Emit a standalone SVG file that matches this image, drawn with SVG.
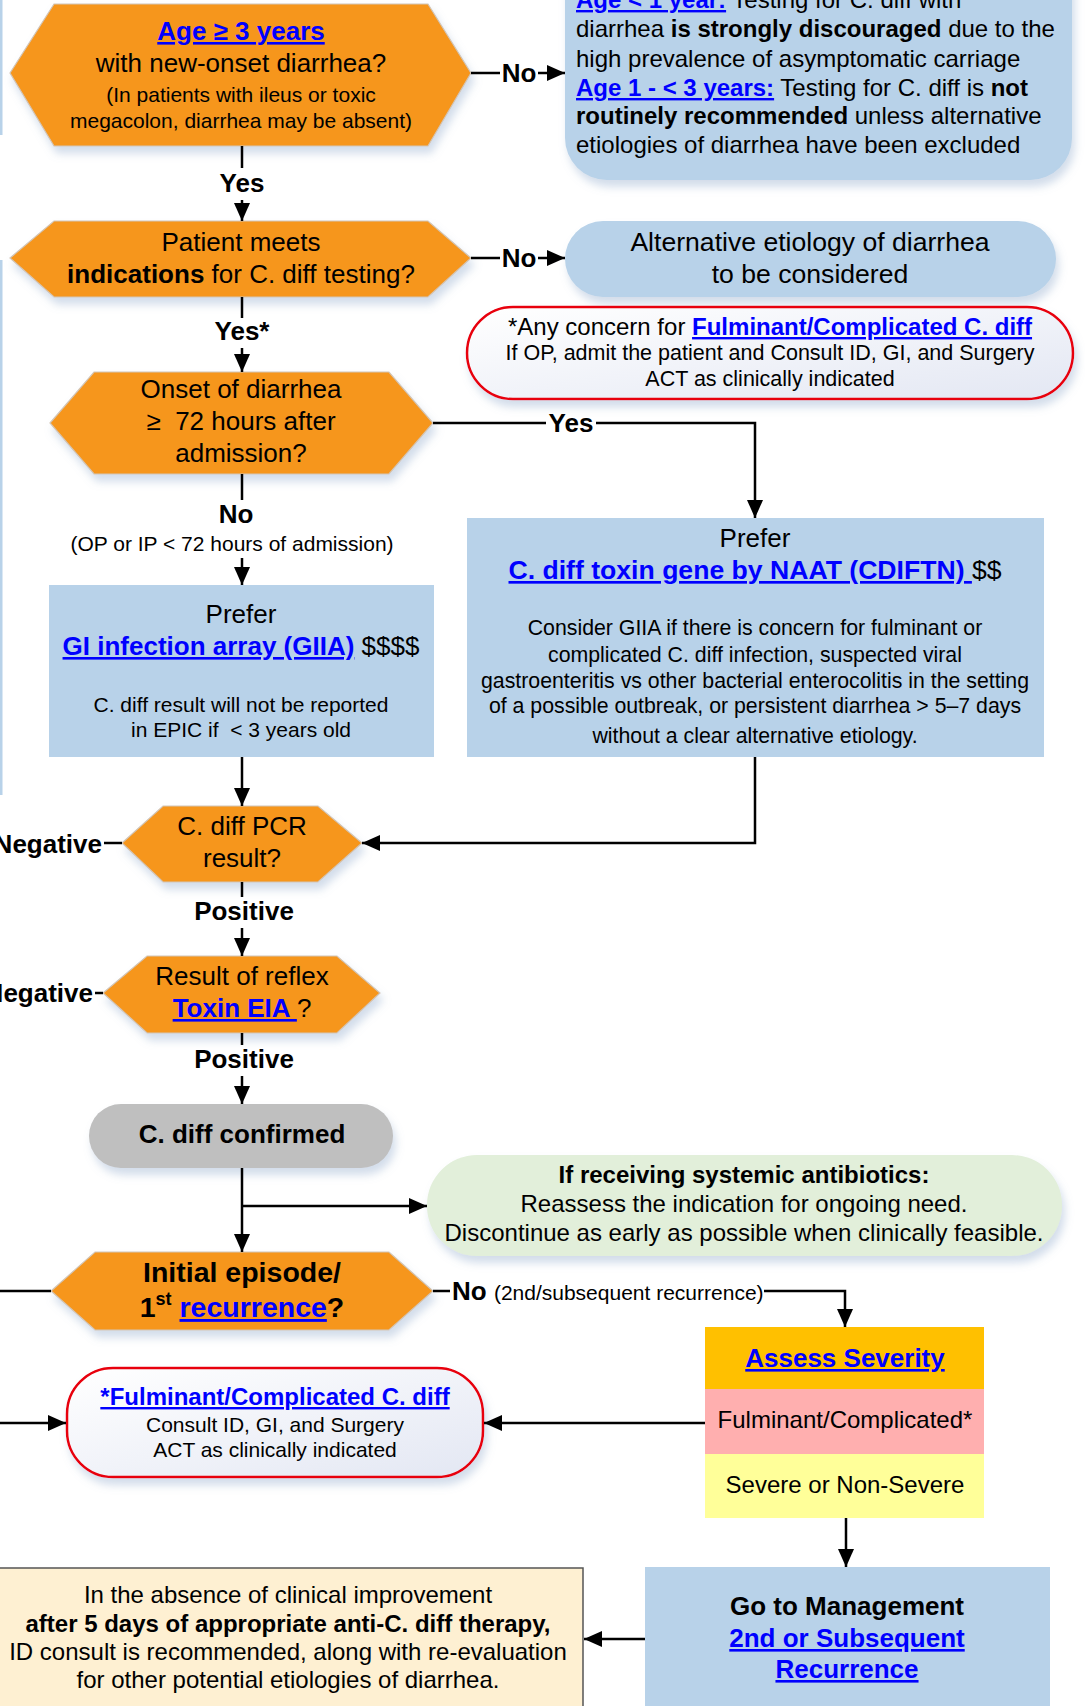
<svg xmlns="http://www.w3.org/2000/svg" width="1085" height="1706" viewBox="0 0 1085 1706">
<style>
text{font-family:"Liberation Sans",Arial,sans-serif;fill:#000;}
.c{text-anchor:middle;}
.e{text-anchor:end;}
.b{font-weight:bold;}
.lk{fill:#0000FF;font-weight:bold;text-decoration:underline;}
.f26{font-size:26px;}
.f24{font-size:24px;}
.f21{font-size:21px;}
.hex{fill:#F6961F;stroke:#d2c6b8;stroke-width:1.2;filter:url(#sh);}
.blue{fill:#B8D2E9;}
.blueR{fill:#B8D2E9;filter:url(#sh);}
.red{fill:url(#rg);stroke:#E8000B;stroke-width:2.5;filter:url(#sh);}
.conn path{fill:none;stroke:#000;stroke-width:2.5;}
.arr{marker-end:url(#ah);}
.lbl{font-size:26px;font-weight:bold;}
</style>
<defs>
<marker id="ah" markerWidth="18" markerHeight="16" refX="18" refY="8" orient="auto" markerUnits="userSpaceOnUse"><path d="M0,0 L18,8 L0,16 z" fill="#000"/></marker>
<filter id="sh" x="-10%" y="-20%" width="125%" height="150%"><feDropShadow dx="3" dy="7" stdDeviation="4" flood-color="#7f9cc4" flood-opacity="0.35"/></filter>
<linearGradient id="rg" x1="0" y1="0" x2="1" y2="1"><stop offset="0" stop-color="#ffffff"/><stop offset="1" stop-color="#e3e7f3"/></linearGradient>
</defs>
<rect width="1085" height="1706" fill="#fff"/>
<rect x="0" y="0" width="2.5" height="135" fill="#B8D2E9"/>
<rect x="0" y="260" width="2.5" height="535" fill="#B8D2E9"/>

<g id="n-age">
<polygon class="hex" points="10,73 54,4 428,4 471,73 428,146 54,146"/>
<text x="241" y="40" class="c f26"><tspan class="lk">Age ≥ 3 years</tspan></text>
<text x="241" y="72" class="c f26">with new-onset diarrhea?</text>
<text x="241" y="102" class="c f21">(In patients with ileus or toxic</text>
<text x="241" y="128" class="c f21">megacolon, diarrhea may be absent)</text>
</g>

<g id="n-under3">
<rect class="blueR" x="565" y="-80" width="507" height="260" rx="42"/>
<text x="576" y="8" class="f24"><tspan class="lk">Age &lt; 1 year:</tspan> Testing for C. diff with</text>
<text x="576" y="37" class="f24">diarrhea <tspan class="b">is strongly discouraged</tspan> due to the</text>
<text x="576" y="67" class="f24">high prevalence of asymptomatic carriage</text>
<text x="576" y="96" class="f24"><tspan class="lk">Age 1 - &lt; 3 years:</tspan> Testing for C. diff is <tspan class="b">not</tspan></text>
<text x="576" y="124" class="f24"><tspan class="b">routinely recommended</tspan> unless alternative</text>
<text x="576" y="153" class="f24">etiologies of diarrhea have been excluded</text>
</g>

<g id="n-indic">
<polygon class="hex" points="10,258 54,221 428,221 471,258 428,297 54,297"/>
<text x="241" y="251" class="c f26">Patient meets</text>
<text x="241" y="283" class="c f26"><tspan class="b">indications</tspan> for C. diff testing?</text>
</g>

<g id="n-alt">
<rect class="blueR" x="565" y="221" width="491" height="76" rx="38"/>
<text x="810" y="251" class="c" style="font-size:26.6px">Alternative etiology of diarrhea</text>
<text x="810" y="283" class="c" style="font-size:26.6px">to be considered</text>
</g>

<g id="n-concern">
<rect class="red" x="467" y="307" width="606" height="92" rx="46"/>
<text x="770" y="335" class="c f24">*Any concern for <tspan class="lk">Fulminant/Complicated C. diff </tspan></text>
<text x="770" y="360" class="c" style="font-size:21.5px">If OP, admit the patient and Consult ID, GI, and Surgery</text>
<text x="770" y="386" class="c" style="font-size:21.5px">ACT as clinically indicated</text>
</g>

<g id="n-onset">
<polygon class="hex" points="50,423 94,372 389,372 433,423 389,474 94,474"/>
<text x="241" y="398" class="c f26">Onset of diarrhea</text>
<text x="241" y="430" class="c f26" xml:space="preserve">≥  72 hours after</text>
<text x="241" y="462" class="c f26">admission?</text>
</g>

<g id="n-giia">
<rect class="blue" x="49" y="585" width="385" height="172"/>
<text x="241" y="623" class="c f26">Prefer</text>
<text x="241" y="655" class="c f26"><tspan class="lk">GI infection array (GIIA)</tspan> $$$$</text>
<text x="241" y="712" class="c f21">C. diff result will not be reported</text>
<text x="241" y="737" class="c f21" xml:space="preserve">in EPIC if  &lt; 3 years old</text>
</g>

<g id="n-naat">
<rect class="blue" x="467" y="518" width="577" height="239"/>
<text x="755" y="547" class="c f26">Prefer</text>
<text x="755" y="579" class="c" style="font-size:26.6px"><tspan class="lk">C. diff toxin gene by NAAT (CDIFTN) </tspan>$$</text>
<text x="755" y="635" class="c" style="font-size:21.3px">Consider GIIA if there is concern for fulminant or</text>
<text x="755" y="662" class="c" style="font-size:21.3px">complicated C. diff infection, suspected viral</text>
<text x="755" y="688" class="c" style="font-size:21.3px">gastroenteritis vs other bacterial enterocolitis in the setting</text>
<text x="755" y="713" class="c" style="font-size:21.3px">of a possible outbreak, or persistent diarrhea &gt; 5–7 days</text>
<text x="755" y="743" class="c" style="font-size:21.3px">without a clear alternative etiology.</text>
</g>

<g id="n-pcr">
<polygon class="hex" points="122,843 163,806 318,806 362,843 318,882 163,882"/>
<text x="242" y="835" class="c f26">C. diff PCR</text>
<text x="242" y="867" class="c f26">result?</text>
</g>

<g id="n-toxin">
<polygon class="hex" points="103,993 147,956 337,956 380,993 337,1033 147,1033"/>
<text x="242" y="985" class="c f26">Result of reflex</text>
<text x="242" y="1017" class="c f26"><tspan class="lk">Toxin EIA </tspan>?</text>
</g>

<g id="n-confirmed">
<rect x="89" y="1104" width="304" height="64" rx="32" fill="#BFBFBF" filter="url(#sh)"/>
<text x="242" y="1143" class="c f26 b">C. diff confirmed</text>
</g>

<g id="n-antibiotics">
<rect x="427" y="1155" width="635" height="101" rx="50" fill="#E2EFDA" filter="url(#sh)"/>
<text x="744" y="1183" class="c f24 b">If receiving systemic antibiotics:</text>
<text x="744" y="1212" class="c f24">Reassess the indication for ongoing need.</text>
<text x="744" y="1241" class="c f24">Discontinue as early as possible when clinically feasible.</text>
</g>

<g id="n-initial">
<polygon class="hex" points="51,1291 95,1252 389,1252 433,1291 389,1330 95,1330"/>
<text x="242" y="1282" class="c b" style="font-size:28.5px">Initial episode/</text>
<text x="242" y="1317" class="c b" style="font-size:28.5px">1<tspan dy="-12" style="font-size:18px">st</tspan><tspan dy="12"> </tspan><tspan class="lk">recurrence</tspan>?</text>
</g>

<g id="n-severity">
<rect x="705" y="1327" width="279" height="62" fill="#FFC000"/>
<rect x="705" y="1389" width="279" height="65" fill="#FFAFAF"/>
<rect x="705" y="1454" width="279" height="64" fill="#FFFF99"/>
<text x="845" y="1367" class="c f26"><tspan class="lk">Assess Severity</tspan></text>
<text x="845" y="1428" class="c f24">Fulminant/Complicated*</text>
<text x="845" y="1493" class="c f24">Severe or Non-Severe</text>
</g>

<g id="n-fulminant">
<rect class="red" x="67" y="1368" width="416" height="109" rx="46"/>
<text x="275" y="1405" class="c f24"><tspan class="lk">*Fulminant/Complicated C. diff </tspan></text>
<text x="275" y="1432" class="c f21">Consult ID, GI, and Surgery</text>
<text x="275" y="1457" class="c f21">ACT as clinically indicated</text>
</g>

<g id="n-management">
<rect class="blue" x="645" y="1567" width="405" height="160"/>
<text x="847" y="1615" class="c f26 b">Go to Management</text>
<text x="847" y="1647" class="c f26"><tspan class="lk">2nd or Subsequent</tspan></text>
<text x="847" y="1678" class="c f26"><tspan class="lk">Recurrence</tspan></text>
</g>

<g id="n-noimprove">
<rect x="-10" y="1568" width="593" height="160" fill="#FEF0D2" stroke="#555" stroke-width="1.5"/>
<text x="288" y="1603" class="c f24">In the absence of clinical improvement</text>
<text x="288" y="1632" class="c f24 b">after 5 days of appropriate anti-C. diff therapy,</text>
<text x="288" y="1660" class="c f24">ID consult is recommended, along with re-evaluation</text>
<text x="288" y="1688" class="c f24">for other potential etiologies of diarrhea.</text>
</g>

<g id="connectors" class="conn">
<path d="M471,73 H500"/><path class="arr" d="M538,73 H565"/>
<path d="M242,146 V168"/><path class="arr" d="M242,200 V221"/>
<path d="M471,258 H500"/><path class="arr" d="M538,258 H565"/>
<path d="M242,297 V318"/><path class="arr" d="M242,348 V372"/>
<path d="M242,474 V500"/><path class="arr" d="M242,558 V585"/>
<path d="M433,423 H546"/><path class="arr" d="M596,423 H755 V518"/>
<path class="arr" d="M242,757 V806"/>
<path class="arr" d="M755,757 V843 H362"/>
<path d="M122,843 H104"/>
<path d="M242,882 V897"/><path class="arr" d="M242,928 V956"/>
<path d="M103,993 H95"/>
<path d="M242,1033 V1045"/><path class="arr" d="M242,1076 V1104"/>
<path class="arr" d="M242,1168 V1252"/>
<path class="arr" d="M242,1206 H427"/>
<path d="M51,1291 H0"/>
<path d="M433,1291 H450"/><path class="arr" d="M764,1291 H845 V1327"/>
<path class="arr" d="M705,1423 H484"/>
<path class="arr" d="M0,1423 H66"/>
<path class="arr" d="M846,1518 V1567"/>
<path class="arr" d="M645,1639 H584"/>
<text x="519" y="82" class="c lbl">No</text>
<text x="242" y="192" class="c lbl">Yes</text>
<text x="519" y="267" class="c lbl">No</text>
<text x="242" y="340" class="c lbl">Yes*</text>
<text x="236" y="523" class="c lbl">No</text>
<text x="232" y="551" class="c f21">(OP or IP &lt; 72 hours of admission)</text>
<text x="571" y="432" class="c lbl">Yes</text>
<text x="102" y="853" class="e lbl">Negative</text>
<text x="244" y="920" class="c lbl">Positive</text>
<text x="93" y="1002" class="e lbl">Negative</text>
<text x="244" y="1068" class="c lbl">Positive</text>
<text x="452" y="1300" class="lbl">No <tspan style="font-size:21px;font-weight:normal">(2nd/subsequent recurrence)</tspan></text>
</g>
</svg>
